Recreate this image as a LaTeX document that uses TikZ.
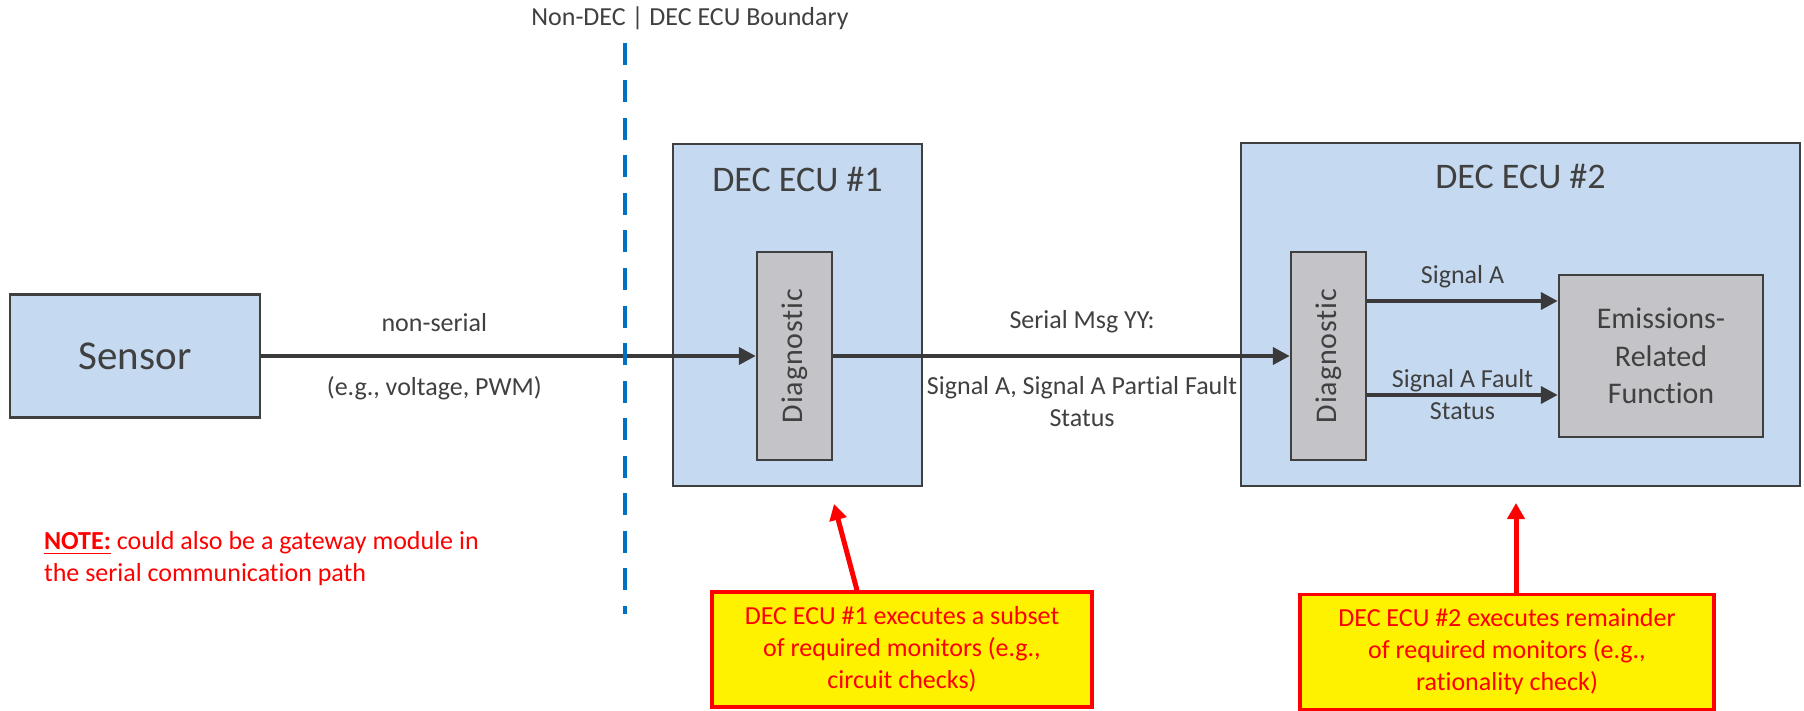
\documentclass[tikz,border=0pt]{standalone}
\usepackage{fontspec}
\setmainfont{Carlito}[Ligatures=NoCommon]
\usetikzlibrary{arrows.meta, positioning}

\definecolor{ecublue}{HTML}{C5D9F0}
\definecolor{diaggray}{HTML}{C4C4C8}
\definecolor{edgegray}{HTML}{404040}
\definecolor{flowgray}{HTML}{3A3A3A}
\definecolor{bndblue}{HTML}{0070C0}

\tikzstyle{sensorbox} = [rectangle, 
minimum width=125pt, 
minimum height=61.5pt,
text centered, 
draw=edgegray, line width=1.25pt,
fill=ecublue, text=edgegray,
font=\fontsize{20.5}{24}\selectfont]
\tikzstyle{ecubox} = [rectangle, 
draw=edgegray, line width=1.25pt, 
fill=ecublue]
\tikzstyle{ecutitle} = [text=edgegray, font=\fontsize{18}{22}\selectfont]
\tikzstyle{diagbox} = [rectangle, 
minimum width=37.5pt, 
minimum height=104pt, 
draw=edgegray, line width=1.25pt, 
fill=diaggray]
\tikzstyle{diagtext} = [rotate=90, text=edgegray, 
font=\fontsize{15}{18}\selectfont\addfontfeature{LetterSpace=3}]
\tikzstyle{funcbox} = [rectangle, 
minimum width=102pt, 
minimum height=81pt, 
align=center, 
draw=edgegray, line width=1.25pt, 
fill=diaggray, text=edgegray,
font=\fontsize{15}{18.75}\selectfont]
\tikzstyle{callout} = [rectangle, 
minimum width=190pt, 
minimum height=57.5pt, 
align=center, 
draw=red, line width=1.75pt, 
fill=yellow, text=red,
font=\fontsize{13}{16}\selectfont]
\tikzstyle{lbl} = [text=edgegray, align=center, font=\fontsize{13}{16}\selectfont]
\tikzstyle{notetext} = [text=red, align=left, font=\fontsize{13}{16}\selectfont]
\tikzstyle{arrow} = [line width=2pt, draw=flowgray, -{Triangle[length=8.5pt,width=8.5pt]}]
\tikzstyle{redarrow} = [line width=2.5pt, draw=red, -{Triangle[length=8pt,width=8.5pt]}]
\tikzstyle{boundary} = [draw=bndblue, line width=2.25pt, dash pattern=on 11pt off 7.75pt]

\begin{document}
\begin{tikzpicture}[x=0.5pt, y=-0.5pt]
\useasboundingbox (0,0) rectangle (1804,711);

\node (sensor) [sensorbox] at (135,356) {Sensor};

\node (ecu1) [ecubox, minimum width=124.5pt, minimum height=171pt] at (797.5,315) {};
\node (title1) [ecutitle] at ([yshift=-18.5pt]ecu1.north) {DEC ECU \#1};
\node (diag1) [diagbox, label={[diagtext]center:Diagnostic}] at (794.5,356) {};

\node (ecu2) [ecubox, minimum width=279.5pt, minimum height=171.5pt] at (1520.5,314.5) {};
\node (title2) [ecutitle] at ([yshift=-17.5pt]ecu2.north) {DEC ECU \#2};
\node (diag2) [diagbox, label={[diagtext]center:Diagnostic}] at (1328.5,356) {};
\node (emis) [funcbox] at (1661,356) {Emissions-\\Related\\Function};

\draw [arrow] (sensor) -- node[lbl, pos=.35, yshift=16.5pt] {non-serial}
  node[lbl, pos=.35, yshift=-16pt] {(e.g., voltage, PWM)} (diag1);
\draw [arrow] (diag1) -- node[lbl, pos=.545, yshift=17pt] {Serial Msg YY:}
  node[lbl, pos=.545, yshift=-23pt] {Signal A, Signal A Partial Fault\\Status} (diag2);
\draw [arrow] ([yshift=27.5pt]diag2.east) -- node[lbl, yshift=12pt] {Signal A}
  ([yshift=27.5pt]diag2.east -| emis.west);
\draw [arrow] ([yshift=-19.5pt]diag2.east) -- node[lbl] {Signal A Fault\\Status}
  ([yshift=-19.5pt]diag2.east -| emis.west);

% non-DEC | DEC boundary
\node (bndtitle) [lbl] at (690,18) {Non-DEC | DEC ECU Boundary};
\coordinate (bndtop) at (625,43);
\coordinate (bndbot) at (625,614);
\draw [boundary] (bndtop) -- (bndbot);

\node (note) [notetext, anchor=west] at (37,559) {\underline{\textbf{NOTE:}} could also be a gateway module in\\the serial communication path};

% monitor callouts
\node (mon1) [callout] at (902,649.5) {DEC ECU \#1 executes a subset\\of required monitors (e.g.,\\circuit checks)};
\node (mon2) [callout, minimum width=207pt] at (1507,652) {DEC ECU \#2 executes remainder\\of required monitors (e.g.,\\rationality check)};
\coordinate (tip1) at (834,504);
\coordinate (tip2) at (1516,503);
\draw [redarrow] ([xshift=-22.5pt]mon1.north) -- (tip1);
\draw [redarrow] ([xshift=4.5pt]mon2.north) -- (tip2);

\end{tikzpicture}
\end{document}
